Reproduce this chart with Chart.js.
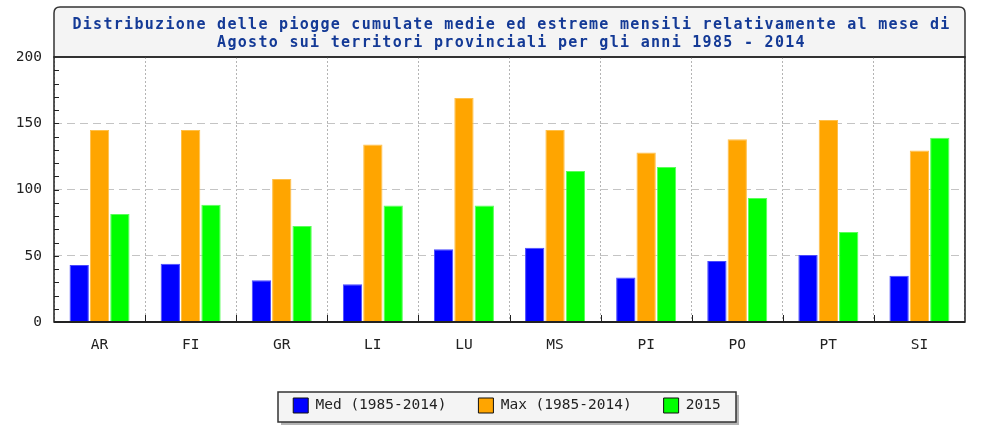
<!DOCTYPE html>
<html>
<head>
<meta charset="utf-8">
<script src="https://cdn.jsdelivr.net/npm/chart.js@4.4.1/dist/chart.umd.min.js"></script>
<style>
  html, body { margin: 0; padding: 0; background: #fff; }
</style>
</head>
<body>
<canvas id="chart" width="986" height="434"></canvas>
<script>
// data (mm of rain)
const provinces = ['AR', 'FI', 'GR', 'LI', 'LU', 'MS', 'PI', 'PO', 'PT', 'SI'];
const medValues = [43, 44, 31.5, 28.5, 55, 56, 33.5, 46, 50.5, 35];
const maxValues = [145, 145, 108, 134, 169, 145, 128, 138, 152.5, 129.5];
const values2015 = [81.5, 88.5, 72.5, 88, 88, 114, 117, 93.5, 68, 139];
const seriesNames = ['Med (1985-2014)', 'Max (1985-2014)', '2015'];
const seriesColors = ['#0000ff', '#ffa500', '#00ff00'];
const seriesEdges = ['#4a4aff', '#ffc04a', '#5aff5a'];
const yMax = 200;
const yStep = 50;
const titleLines = [
  'Distribuzione delle piogge cumulate medie ed estreme mensili relativamente al mese di',
  'Agosto sui territori provinciali per gli anni 1985 - 2014'
];

Chart.defaults.font.family = '"DejaVu Sans Mono", "Liberation Mono", monospace';
Chart.defaults.font.size = 14.5;
Chart.defaults.color = '#222';

// title box + legend frame, drawn under everything else
const backdrop = {
  id: 'backdrop',
  afterLayout(chart) {
    // move the legend a bit to the right, like the original
    chart.legend.left += 16;
    chart.legend.right += 16;
  },
  beforeDraw(chart) {
    const { ctx, chartArea: a } = chart;
    ctx.save();
    ctx.fillStyle = '#fff';
    ctx.fillRect(0, 0, chart.width, chart.height);

    // title box with rounded top corners
    const top = a.top - 50, r = 6;
    ctx.beginPath();
    ctx.moveTo(a.left, a.top);
    ctx.lineTo(a.left, top + r);
    ctx.quadraticCurveTo(a.left, top, a.left + r, top);
    ctx.lineTo(a.right - r, top);
    ctx.quadraticCurveTo(a.right, top, a.right, top + r);
    ctx.lineTo(a.right, a.top);
    ctx.closePath();
    ctx.fillStyle = '#f4f4f4';
    ctx.fill();
    ctx.strokeStyle = '#333';
    ctx.lineWidth = 1.5;
    ctx.stroke();

    ctx.fillStyle = '#143a96';
    ctx.font = 'bold 15px "DejaVu Sans Mono", monospace';
    ctx.letterSpacing = '1.3px';
    ctx.textAlign = 'center';
    ctx.textBaseline = 'middle';
    const cx = (a.left + a.right) / 2 + 2;
    ctx.fillText(titleLines[0], cx, top + 18);
    ctx.fillText(titleLines[1], cx, top + 36);
    ctx.letterSpacing = '0px';

    // legend frame
    const lg = chart.legend;
    const pad = lg.options.labels.padding;
    const lw = lg.lineWidths[0];
    const x0 = (lg.left + pad + lg.right - lw) / 2;
    const itemTop = lg.top + pad;
    const bx = Math.round(x0 - 15), by = Math.round(itemTop - 6), bw = Math.round(lw - pad + 30), bh = 30;
    ctx.fillStyle = '#b4b4b4';
    ctx.fillRect(bx + 3, by + 3, bw, bh);
    ctx.fillStyle = '#f4f4f4';
    ctx.fillRect(bx, by, bw, bh);
    ctx.strokeStyle = '#333';
    ctx.lineWidth = 1.5;
    ctx.strokeRect(bx, by, bw, bh);
    ctx.restore();
  }
};

// plot frame and the small inner ticks
const frame = {
  id: 'frame',
  afterDraw(chart) {
    const { ctx, chartArea: a, scales } = chart;
    ctx.save();
    ctx.strokeStyle = '#222';
    ctx.lineWidth = 1;
    ctx.beginPath();
    for (let v = 10; v < yMax; v += 10) {
      const y = Math.round(scales.y.getPixelForValue(v)) + 0.5;
      ctx.moveTo(a.left, y);
      ctx.lineTo(a.left + 5, y);
    }
    for (let i = 1; i < provinces.length; i++) {
      const x = Math.round(scales.x.getPixelForValue(i - 0.5)) + 0.5;
      ctx.moveTo(x, a.bottom);
      ctx.lineTo(x, a.bottom - 7);
    }
    ctx.stroke();
    ctx.lineWidth = 1.5;
    ctx.strokeRect(a.left, a.top, a.right - a.left, a.bottom - a.top);
    ctx.lineWidth = 2;
    ctx.beginPath();
    ctx.moveTo(a.left, a.bottom);
    ctx.lineTo(a.right, a.bottom);
    ctx.stroke();
    ctx.restore();
  }
};

const datasets = [medValues, maxValues, values2015].map((vals, i) => ({
  label: seriesNames[i],
  data: vals,
  backgroundColor: seriesColors[i],
  borderColor: seriesEdges[i],
  borderWidth: 1,
  borderSkipped: 'bottom',
  barPercentage: 0.95,
  categoryPercentage: 0.67
}));

new Chart(document.getElementById('chart'), {
  type: 'bar',
  data: { labels: provinces, datasets },
  options: {
    responsive: false,
    animation: false,
    devicePixelRatio: 1,
    layout: { padding: { left: 17, right: 21, top: 57, bottom: 11 } },
    scales: {
      x: {
        grid: { offset: true, color: '#b4b4b4', lineWidth: 1, drawTicks: false },
        border: { display: false, dash: [2, 2] },
        ticks: { padding: 15, color: '#222' },
        afterFit(scale) { scale.height = 44; }
      },
      y: {
        min: 0,
        max: yMax,
        grid: {
          drawTicks: false,
          lineWidth: 1,
          color: ctx => (ctx.tick && ctx.tick.value > 0 && ctx.tick.value < yMax) ? '#c4c4c4' : 'transparent'
        },
        border: { display: false, dash: [8, 5] },
        ticks: { stepSize: yStep, padding: 12, color: '#222' },
        afterFit(scale) { scale.width = 37; }
      }
    },
    plugins: {
      title: { display: false },
      tooltip: { enabled: false },
      legend: {
        position: 'bottom',
        labels: {
          boxWidth: 15,
          boxHeight: 15,
          padding: 32,
          color: '#222',
          generateLabels(chart) {
            const items = Chart.defaults.plugins.legend.labels.generateLabels(chart);
            items.forEach(it => { it.strokeStyle = '#111'; it.lineWidth = 1; });
            return items;
          }
        }
      }
    }
  },
  plugins: [backdrop, frame]
});
</script>
</body>
</html>
